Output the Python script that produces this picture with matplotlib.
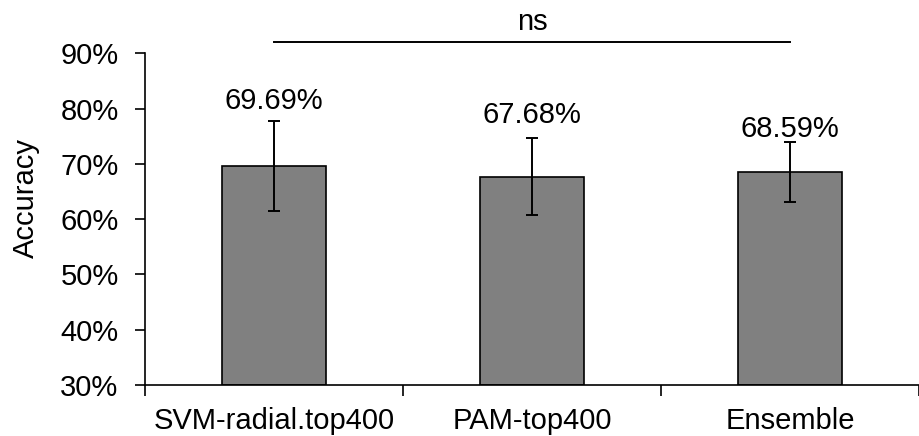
import matplotlib
matplotlib.use("Agg")
import matplotlib.pyplot as plt
from matplotlib.ticker import FixedLocator, PercentFormatter

plt.rcParams['font.family'] = ['Liberation Sans', 'DejaVu Sans']

models = ["SVM-radial.top400", "PAM-top400", "Ensemble"]
accuracy = [69.69, 67.68, 68.59]
errors = [8.14, 6.94, 5.43]
label_y = [79.93, 77.4, 74.86]
yticks = [30, 40, 50, 60, 70, 80, 90]

fig = plt.figure(figsize=(9.19, 4.36), dpi=100)
ax = fig.add_axes([145 / 919, 1 - 385 / 436, 774 / 919, (385 - 53.3) / 436])

x = list(range(len(models)))
ax.bar(x, [a - 30 for a in accuracy], bottom=30, width=0.4,
       color="#808080", edgecolor="black", linewidth=1.2, zorder=2)
ax.errorbar(x, accuracy, yerr=errors, fmt="none", ecolor="black",
            elinewidth=1.4, capsize=4, capthick=1.4, zorder=3)

for xi, a, ly in zip(x, accuracy, label_y):
    ax.text(xi, ly, f"{a:.2f}%", ha="center", va="baseline", fontsize=21)

# significance bracket
ax.plot([x[0], x[2]], [92.1, 92.1], color="black", lw=1.4, clip_on=False)
ax.text((x[0] + x[2]) / 2, 94.2, "ns", ha="center", va="baseline", fontsize=21)

ax.set_xlim(-0.5, 2.5)
ax.set_ylim(30, 90)
ax.set_yticks(yticks)
ax.yaxis.set_major_formatter(PercentFormatter(decimals=0))
ax.set_xticks(x)
ax.set_xticklabels(models)
ax.xaxis.set_minor_locator(FixedLocator([-0.5, 0.5, 1.5, 2.5]))

ax.tick_params(axis="x", which="major", length=0, labelsize=21, pad=16)
ax.tick_params(axis="x", which="minor", length=8, width=1.2, direction="out")
ax.tick_params(axis="y", length=7, width=1.2, labelsize=21, pad=12)

for s in ["top", "right"]:
    ax.spines[s].set_visible(False)
for s in ["left", "bottom"]:
    ax.spines[s].set_linewidth(1.2)

ax.set_ylabel("Accuracy", fontsize=21)
ax.yaxis.set_label_coords(-0.136, 0.565)

fig.savefig("out.png", dpi=100)
